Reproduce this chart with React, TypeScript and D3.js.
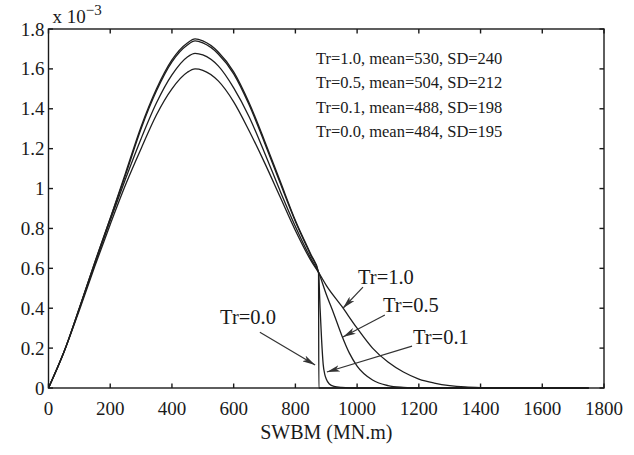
import { useEffect, useRef } from "react";
import * as d3 from "d3";

// x values (MN.m) shared by the main body of every curve
const bodyX = [0, 50, 100, 150, 200, 250, 300, 350, 400, 450, 475, 500, 550, 600, 650, 700, 750, 800, 850];

// densities in units of 1e-3
const tr00Body = [0, 0.18, 0.4, 0.63, 0.85, 1.08, 1.31, 1.5, 1.645, 1.73, 1.75, 1.74, 1.685, 1.585, 1.43, 1.24, 1.04, 0.84, 0.67];
const tr01Body = [0, 0.18, 0.4, 0.63, 0.85, 1.07, 1.3, 1.49, 1.635, 1.72, 1.74, 1.73, 1.675, 1.575, 1.42, 1.23, 1.03, 0.835, 0.665];
const tr05Body = [0, 0.18, 0.4, 0.62, 0.84, 1.05, 1.25, 1.43, 1.57, 1.66, 1.678, 1.67, 1.615, 1.505, 1.36, 1.18, 0.99, 0.81, 0.65];
const tr10Body = [0, 0.18, 0.39, 0.61, 0.82, 1.02, 1.2, 1.37, 1.5, 1.583, 1.6, 1.593, 1.54, 1.435, 1.29, 1.13, 0.96, 0.79, 0.64];

// tails after the cut-off
const tr00TailX = [875, 876, 1750];
const tr00Tail = [0.58, 0, 0];
const tr01TailX = [875, 880, 885, 890, 895, 900, 910, 925, 950, 1000, 1750];
const tr01Tail = [0.58, 0.4, 0.24, 0.12, 0.07, 0.045, 0.02, 0.008, 0.003, 0, 0];
const tr05TailX = [875, 900, 925, 950, 975, 1000, 1050, 1100, 1150, 1200, 1750];
const tr05Tail = [0.58, 0.47, 0.37, 0.265, 0.175, 0.11, 0.04, 0.012, 0.003, 0, 0];
const tr10TailX = [875, 900, 950, 1000, 1050, 1100, 1150, 1200, 1250, 1300, 1350, 1400, 1500, 1750];
const tr10Tail = [0.58, 0.515, 0.41, 0.3, 0.2, 0.13, 0.08, 0.045, 0.025, 0.012, 0.005, 0.002, 0, 0];

const legendLines = [
  "Tr=1.0, mean=530, SD=240",
  "Tr=0.5, mean=504, SD=212",
  "Tr=0.1, mean=488, SD=198",
  "Tr=0.0, mean=484, SD=195",
];

const xTicks = [0, 200, 400, 600, 800, 1000, 1200, 1400, 1600, 1800];
const yTicks = [0, 0.2, 0.4, 0.6, 0.8, 1, 1.2, 1.4, 1.6, 1.8];

// label text, text anchor (x, y), arrow start, arrow tip - all in data units
const annotations = [
  { text: "Tr=0.0", tx: 556, ty: 0.32, x0: 685, y0: 0.28, x1: 864, y1: 0.115 },
  { text: "Tr=1.0", tx: 1003, ty: 0.52, x0: 1019, y0: 0.506, x1: 954, y1: 0.4 },
  { text: "Tr=0.5", tx: 1084, ty: 0.38, x0: 1090, y0: 0.366, x1: 954, y1: 0.256 },
  { text: "Tr=0.1", tx: 1181, ty: 0.22, x0: 1178, y0: 0.21, x1: 902, y1: 0.08 },
];

const W = 634;
const H = 455;
const margin = { left: 48.5, right: 30, top: 29, bottom: 67 };
const font = "'Liberation Serif', 'DejaVu Serif', serif";

function toPoints(xs: number[], ys: number[]) {
  return xs.map((x, i) => [x, ys[i]] as [number, number]);
}

const App = () => {
  const ref = useRef<SVGSVGElement>(null);

  useEffect(() => {
    const svg = d3.select(ref.current);
    svg.selectAll("*").remove();

    const x = d3.scaleLinear().domain([0, 1800]).range([margin.left, W - margin.right]);
    const y = d3.scaleLinear().domain([0, 1.8]).range([H - margin.bottom, margin.top]);

    svg
      .append("defs")
      .append("marker")
      .attr("id", "arrow")
      .attr("viewBox", "0 0 12 6")
      .attr("refX", 12)
      .attr("refY", 3)
      .attr("markerWidth", 13)
      .attr("markerHeight", 6.5)
      .attr("markerUnits", "userSpaceOnUse")
      .attr("orient", "auto")
      .append("path")
      .attr("d", "M0,0 L12,3 L0,6 L3,3 Z")
      .attr("fill", "#333");

    const line = d3
      .line<[number, number]>()
      .x((d) => x(d[0]))
      .y((d) => y(d[1]))
      .curve(d3.curveMonotoneX);

    const series = [
      toPoints(bodyX, tr10Body).concat(toPoints(tr10TailX, tr10Tail)),
      toPoints(bodyX, tr05Body).concat(toPoints(tr05TailX, tr05Tail)),
      toPoints(bodyX, tr01Body).concat(toPoints(tr01TailX, tr01Tail)),
      toPoints(bodyX, tr00Body).concat(toPoints(tr00TailX, tr00Tail)),
    ];

    svg
      .append("g")
      .selectAll("path")
      .data(series)
      .join("path")
      .attr("d", (d) => line(d))
      .attr("fill", "none")
      .attr("stroke", "#1e1e1e")
      .attr("stroke-width", 1.3);

    // axes box with inward ticks on all sides
    const x0 = x(0), x1 = x(1800), y0 = y(0), y1 = y(1.8);
    const tick = 4.5;
    const axes = svg.append("g").attr("stroke", "#1a1a1a").attr("stroke-width", 1.4);
    axes.append("rect").attr("x", x0).attr("y", y1).attr("width", x1 - x0).attr("height", y0 - y1).attr("fill", "none");
    xTicks.forEach((t) => {
      axes.append("line").attr("x1", x(t)).attr("x2", x(t)).attr("y1", y0).attr("y2", y0 - tick);
      axes.append("line").attr("x1", x(t)).attr("x2", x(t)).attr("y1", y1).attr("y2", y1 + tick);
    });
    yTicks.forEach((t) => {
      axes.append("line").attr("x1", x0).attr("x2", x0 + tick).attr("y1", y(t)).attr("y2", y(t));
      axes.append("line").attr("x1", x1).attr("x2", x1 - tick).attr("y1", y(t)).attr("y2", y(t));
    });

    const labels = svg.append("g").attr("font-family", font).attr("fill", "#1a1a1a");
    labels
      .selectAll(".xt")
      .data(xTicks)
      .join("text")
      .attr("x", (d) => x(d))
      .attr("y", y0 + 27)
      .attr("text-anchor", "middle")
      .attr("font-size", 19)
      .text((d) => String(d));
    labels
      .selectAll(".yt")
      .data(yTicks)
      .join("text")
      .attr("x", x0 - 4)
      .attr("y", (d) => y(d) + 6.5)
      .attr("text-anchor", "end")
      .attr("font-size", 19)
      .text((d) => d3.format("~g")(d));

    const exp = labels.append("text").attr("x", x0 + 4).attr("y", y1 - 6).attr("font-size", 19);
    exp.append("tspan").text("x 10");
    exp.append("tspan").attr("dy", -8).attr("font-size", 15).text("\u22123");

    labels
      .append("text")
      .attr("x", (x0 + x1) / 2)
      .attr("y", H - 16)
      .attr("text-anchor", "middle")
      .attr("font-size", 20)
      .text("SWBM (MN.m)");

    labels
      .selectAll(".lg")
      .data(legendLines)
      .join("text")
      .attr("x", 316)
      .attr("y", (_, i) => 64 + i * 24.4)
      .attr("font-size", 16.5)
      .text((d) => d);

    annotations.forEach((a) => {
      labels
        .append("text")
        .attr("x", x(a.tx))
        .attr("y", y(a.ty))
        .attr("font-size", 20.5)
        .text(a.text);
      svg
        .append("line")
        .attr("x1", x(a.x0))
        .attr("y1", y(a.y0))
        .attr("x2", x(a.x1))
        .attr("y2", y(a.y1))
        .attr("stroke", "#333")
        .attr("stroke-width", 1.2)
        .attr("marker-end", "url(#arrow)");
    });
  }, []);

  return (
    <svg
      ref={ref}
      width={W}
      height={H}
      style={{ position: "absolute", left: 0, top: 0, background: "#fff" }}
    ></svg>
  );
};

export default App;
